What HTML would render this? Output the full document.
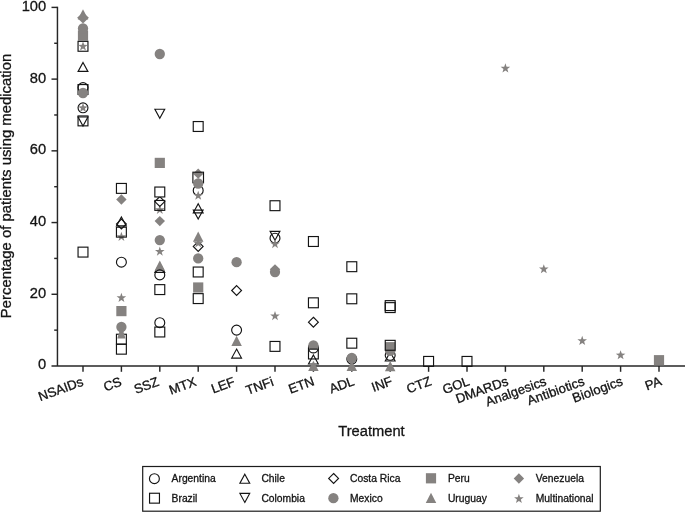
<!DOCTYPE html>
<html><head><meta charset="utf-8"><title>Treatment chart</title>
<style>
html,body{margin:0;padding:0;background:#fff}
svg{display:block}
text{font-family:"Liberation Sans",Arial,Helvetica,sans-serif;fill:#141414;stroke:#141414;stroke-width:.3px}
.n{font-size:14.7px}
.c{font-size:13.15px}
.t{font-size:14.7px}
.l{font-size:10.3px}
.a{fill:none;stroke:#262626;stroke-width:1.45}
.o{fill:none;stroke:#141414;stroke-width:1.15;stroke-miterlimit:10}
.g{fill:#858280;stroke:none}
.w{fill:#fff}
</style></head><body>
<svg width="685" height="512" viewBox="0 0 685 512">
<rect width="685" height="512" fill="#fff"/>
<g><path d="M57.45 6.8V366" class="a"/><path d="M51.5 366H685" class="a"/><text x="46.2" y="369.4" text-anchor="end" class="n">0</text><path d="M54.2 330.14H57.45" class="a"/><path d="M51.5 294.28H57.45" class="a"/><text x="46.2" y="297.68" text-anchor="end" class="n">20</text><path d="M54.2 258.42H57.45" class="a"/><path d="M51.5 222.56H57.45" class="a"/><text x="46.2" y="225.96" text-anchor="end" class="n">40</text><path d="M54.2 186.7H57.45" class="a"/><path d="M51.5 150.84H57.45" class="a"/><text x="46.2" y="154.24" text-anchor="end" class="n">60</text><path d="M54.2 114.98H57.45" class="a"/><path d="M51.5 79.12H57.45" class="a"/><text x="46.2" y="82.52" text-anchor="end" class="n">80</text><path d="M54.2 43.26H57.45" class="a"/><path d="M51.5 7.4H57.45" class="a"/><text x="46.2" y="10.8" text-anchor="end" class="n">100</text><path d="M83 366V371.8" class="a"/><text transform="translate(84.2 385.2) rotate(-20)" text-anchor="end" class="c">NSAIDs</text><path d="M121.4 366V371.8" class="a"/><text transform="translate(122.6 385.2) rotate(-20)" text-anchor="end" class="c">CS</text><path d="M159.8 366V371.8" class="a"/><text transform="translate(159.9 385.2) rotate(-20)" text-anchor="end" class="c">SSZ</text><path d="M198.2 366V371.8" class="a"/><text transform="translate(197.2 385.2) rotate(-20)" text-anchor="end" class="c">MTX</text><path d="M236.6 366V371.8" class="a"/><text transform="translate(235.9 385.2) rotate(-20)" text-anchor="end" class="c">LEF</text><path d="M275 366V371.8" class="a"/><text transform="translate(274.4 385.2) rotate(-20)" text-anchor="end" class="c">TNFi</text><path d="M313.4 366V371.8" class="a"/><text transform="translate(315.3 384.8) rotate(-20)" text-anchor="end" class="c">ETN</text><path d="M351.8 366V371.8" class="a"/><text transform="translate(355.2 384.8) rotate(-20)" text-anchor="end" class="c">ADL</text><path d="M390.2 366V371.8" class="a"/><text transform="translate(393.4 384.8) rotate(-20)" text-anchor="end" class="c">INF</text><path d="M428.6 366V371.8" class="a"/><text transform="translate(432.4 384.8) rotate(-20)" text-anchor="end" class="c">CTZ</text><path d="M467 366V371.8" class="a"/><text transform="translate(470.5 384.8) rotate(-20)" text-anchor="end" class="c">GOL</text><path d="M505.4 366V371.8" class="a"/><text transform="translate(509.1 384.8) rotate(-20)" text-anchor="end" class="c">DMARDs</text><path d="M543.8 366V371.8" class="a"/><text transform="translate(547.3 384.8) rotate(-20)" text-anchor="end" class="c">Analgesics</text><path d="M582.2 366V371.8" class="a"/><text transform="translate(585.4 384.8) rotate(-20)" text-anchor="end" class="c">Antibiotics</text><path d="M620.6 366V371.8" class="a"/><text transform="translate(623.6 384.8) rotate(-20)" text-anchor="end" class="c">Biologics</text><path d="M659 366V371.8" class="a"/><text transform="translate(662.5 384.8) rotate(-20)" text-anchor="end" class="c">PA</text><text x="371.5" y="435.7" text-anchor="middle" class="t">Treatment</text><text transform="translate(11.05 186) rotate(-90)" text-anchor="middle" class="t" style="font-size:14.87px">Percentage of patients using medication</text></g>
<g><path d="M83 9.35L88.25 19.6H77.75Z" class="g"/><path d="M83 12.3L88.9 17.8L83 23.4L77.1 17.8Z" class="g"/><rect x="77.9" y="30.5" width="10.2" height="10.2" class="g"/><circle cx="83" cy="28.5" r="5.15" class="g"/><rect x="78.05" y="41.35" width="9.9" height="9.9" class="o"/><polygon points="83,41.45 84.19,44.87 87.8,44.94 84.92,47.12 85.97,50.59 83,48.52 80.03,50.59 81.08,47.12 78.2,44.94 81.81,44.87" class="g"/><path d="M83 62.4L87.9 71.4H78.1Z" class="o"/><circle cx="83" cy="87.6" r="4.95" class="o"/><rect x="78.05" y="84.55" width="9.9" height="9.9" class="o"/><circle cx="83" cy="93" r="5.15" class="g"/><circle cx="83" cy="107.8" r="4.95" class="o"/><polygon points="83,102.95 84.19,106.37 87.8,106.44 84.92,108.62 85.97,112.09 83,110.02 80.03,112.09 81.08,108.62 78.2,106.44 81.81,106.37" class="g"/><rect x="78.05" y="115.95" width="9.9" height="9.9" class="o"/><path d="M83 126L87.9 117H78.1Z" class="o"/><rect x="78.05" y="247.15" width="9.9" height="9.9" class="o"/><rect x="116.45" y="183.45" width="9.9" height="9.9" class="o"/><path d="M121.4 194.35L126.6 199.5L121.4 204.65L116.2 199.5Z" class="g"/><polygon points="121.4,231.75 122.59,235.17 126.2,235.24 123.32,237.42 124.37,240.89 121.4,238.82 118.43,240.89 119.48,237.42 116.6,235.24 120.21,235.17" class="g"/><rect x="116.45" y="227.2" width="9.9" height="9.9" class="o"/><path d="M121.4 216.9L126.3 225.9H116.5Z" class="o"/><path d="M121.4 219.08L126.32 224L121.4 228.92L116.48 224Z" class="o"/><circle cx="121.4" cy="262.2" r="4.95" class="o"/><polygon points="121.4,292.85 122.59,296.27 126.2,296.34 123.32,298.52 124.37,301.99 121.4,299.92 118.43,301.99 119.48,298.52 116.6,296.34 120.21,296.27" class="g"/><rect x="116.3" y="306" width="10.2" height="10.2" class="g"/><rect x="116.45" y="334.25" width="9.9" height="9.9" class="o"/><rect x="116.45" y="344.25" width="9.9" height="9.9" class="o"/><path d="M120.2 329L122.6 329L125.5 338.6H117.3Z" class="g"/><circle cx="121.4" cy="327" r="5.15" class="g"/><circle cx="159.8" cy="54" r="5.15" class="g"/><path d="M159.8 118.2L164.7 109.2H154.9Z" class="o"/><rect x="154.7" y="157.8" width="10.2" height="10.2" class="g"/><polygon points="159.8,204.75 160.99,208.17 164.6,208.24 161.72,210.42 162.77,213.89 159.8,211.82 156.83,213.89 157.88,210.42 155,208.24 158.61,208.17" class="g"/><rect x="154.85" y="200.45" width="9.9" height="9.9" class="o"/><path d="M159.8 196.68L164.72 201.6L159.8 206.52L154.88 201.6Z" class="o"/><rect x="154.85" y="187.05" width="9.9" height="9.9" class="o w"/><path d="M159.8 215.95L165 221.1L159.8 226.25L154.6 221.1Z" class="g"/><circle cx="159.8" cy="240.1" r="5.15" class="g"/><polygon points="159.8,246.55 160.99,249.97 164.6,250.04 161.72,252.22 162.77,255.69 159.8,253.62 156.83,255.69 157.88,252.22 155,250.04 158.61,249.97" class="g"/><path d="M159.8 263.3L164.7 272.3H154.9Z" class="o"/><path d="M159.8 260.55L165.05 270.8H154.55Z" class="g"/><circle cx="159.8" cy="274.9" r="4.95" class="o"/><rect x="154.85" y="284.65" width="9.9" height="9.9" class="o"/><circle cx="159.8" cy="322.7" r="4.95" class="o"/><rect x="154.85" y="327.05" width="9.9" height="9.9" class="o"/><rect x="193.25" y="121.55" width="9.9" height="9.9" class="o"/><path d="M198.2 168.55L203.4 173.7L198.2 178.85L193 173.7Z" class="g"/><rect x="192.9" y="172.2" width="10.6" height="10.6" class="o"/><circle cx="198.2" cy="190.4" r="4.95" class="o"/><polygon points="198.2,190.65 199.39,194.07 203,194.14 200.12,196.32 201.17,199.79 198.2,197.72 195.23,199.79 196.28,196.32 193.4,194.14 197.01,194.07" class="g"/><circle cx="198.2" cy="183.5" r="5.15" class="g"/><path d="M198.2 203.8L203.1 212.8H193.3Z" class="o"/><path d="M198.2 219.1L203.1 210.1H193.3Z" class="o"/><path d="M198.2 241.48L203.12 246.4L198.2 251.32L193.28 246.4Z" class="o"/><polygon points="198.2,238.25 199.39,241.67 203,241.74 200.12,243.92 201.17,247.39 198.2,245.32 195.23,247.39 196.28,243.92 193.4,241.74 197.01,241.67" class="g"/><path d="M198.2 231.6L203.45 241.85H192.95Z" class="g"/><circle cx="198.2" cy="258.4" r="5.15" class="g"/><rect x="193.25" y="267.05" width="9.9" height="9.9" class="o"/><rect x="193.1" y="282.4" width="10.2" height="10.2" class="g"/><rect x="193.25" y="293.65" width="9.9" height="9.9" class="o"/><circle cx="236.6" cy="262.2" r="5.15" class="g"/><path d="M236.6 285.58L241.52 290.5L236.6 295.42L231.68 290.5Z" class="o"/><circle cx="236.6" cy="330.1" r="4.95" class="o"/><path d="M236.6 335.7L241.85 345.95H231.35Z" class="g"/><path d="M236.6 349.1L241.5 358.1H231.7Z" class="o"/><rect x="270.05" y="200.75" width="9.9" height="9.9" class="o"/><circle cx="275" cy="238.2" r="4.95" class="o"/><path d="M275 240.3L279.9 231.3H270.1Z" class="o"/><polygon points="275,239.05 276.19,242.47 279.8,242.54 276.92,244.72 277.97,248.19 275,246.12 272.03,248.19 273.08,244.72 270.2,242.54 273.81,242.47" class="g"/><path d="M275 264.15L280.2 269.3L275 274.45L269.8 269.3Z" class="g"/><circle cx="275" cy="272.1" r="5.15" class="g"/><polygon points="275,311.05 276.19,314.47 279.8,314.54 276.92,316.72 277.97,320.19 275,318.12 272.03,320.19 273.08,316.72 270.2,314.54 273.81,314.47" class="g"/><rect x="270.05" y="341.45" width="9.9" height="9.9" class="o"/><rect x="308.45" y="236.55" width="9.9" height="9.9" class="o"/><rect x="308.45" y="297.85" width="9.9" height="9.9" class="o"/><path d="M313.4 317.28L318.32 322.2L313.4 327.12L308.48 322.2Z" class="o"/><circle cx="313.4" cy="347.9" r="4.95" class="o"/><circle cx="313.4" cy="345.4" r="5.15" class="g"/><rect x="308.5" y="349.15" width="9.8" height="9.8" class="o w"/><path d="M308.75 349.6A4.95 4.95 0 0 0 318.05 349.6" class="o"/><path d="M313.4 354.95L318.3 363.95H308.5Z" class="o"/><path d="M313.4 360.7L318.65 370.95H308.15Z" class="g"/><rect x="346.85" y="261.75" width="9.9" height="9.9" class="o"/><rect x="346.85" y="293.85" width="9.9" height="9.9" class="o"/><rect x="346.85" y="338.25" width="9.9" height="9.9" class="o"/><circle cx="351.8" cy="359.1" r="4.95" class="o"/><circle cx="351.8" cy="358" r="5.15" class="g"/><path d="M351.8 360.7L357.05 370.95H346.55Z" class="g"/><rect x="385.25" y="300.65" width="9.9" height="9.9" class="o"/><rect x="385.25" y="302.65" width="9.9" height="9.9" class="o"/><circle cx="390.2" cy="355.3" r="4.95" class="o"/><path d="M390.2 352L395.1 361H385.3Z" class="o"/><circle cx="390.2" cy="350.9" r="5.15" class="g"/><rect x="385.1" y="342.1" width="10.2" height="10.2" class="g"/><rect x="385.25" y="340.35" width="9.9" height="9.9" class="o"/><path d="M390.2 361.1L395.45 371.35H384.95Z" class="g"/><rect x="423.65" y="356.45" width="9.9" height="9.9" class="o"/><rect x="462.05" y="356.45" width="9.9" height="9.9" class="o"/><polygon points="505.4,63.31 506.59,66.73 510.2,66.8 507.32,68.99 508.37,72.45 505.4,70.38 502.43,72.45 503.48,68.99 500.6,66.8 504.21,66.73" class="g"/><polygon points="543.8,264.13 544.99,267.54 548.6,267.62 545.72,269.8 546.77,273.26 543.8,271.2 540.83,273.26 541.88,269.8 539,267.62 542.61,267.54" class="g"/><polygon points="582.2,335.85 583.39,339.26 587,339.34 584.12,341.52 585.17,344.98 582.2,342.92 579.23,344.98 580.28,341.52 577.4,339.34 581.01,339.26" class="g"/><polygon points="620.6,350.19 621.79,353.61 625.4,353.68 622.52,355.87 623.57,359.33 620.6,357.26 617.63,359.33 618.68,355.87 615.8,353.68 619.41,353.61" class="g"/><rect x="653.9" y="355.1" width="10.2" height="10.2" class="g"/></g>
<g><rect x="142.7" y="466.5" width="457.6" height="44.7" fill="none" stroke="#1c1c1c" stroke-width="1.2"/><circle cx="154.4" cy="478.7" r="4.95" class="o"/><rect x="149.55" y="493.25" width="9.9" height="9.9" class="o"/><path d="M244.8 474.2L249.7 483.2H239.9Z" class="o"/><path d="M244.8 502.4L249.7 493.4H239.9Z" class="o"/><path d="M333.6 473.48L338.52 478.4L333.6 483.32L328.68 478.4Z" class="o"/><circle cx="333.4" cy="498.2" r="5.15" class="g"/><rect x="425.9" y="473.2" width="10.2" height="10.2" class="g"/><path d="M431 492.8L436.25 503.05H425.75Z" class="g"/><path d="M518.9 473.35L524.1 478.5L518.9 483.65L513.7 478.5Z" class="g"/><polygon points="518.9,493.85 520.09,497.27 523.7,497.34 520.82,499.52 521.87,502.99 518.9,500.92 515.93,502.99 516.98,499.52 514.1,497.34 517.71,497.27" class="g"/><text x="171.6" y="481.9" class="l">Argentina</text><text x="171.6" y="501.9" class="l">Brazil</text><text x="261.4" y="481.9" class="l">Chile</text><text x="261.4" y="501.9" class="l">Colombia</text><text x="350" y="481.9" class="l">Costa Rica</text><text x="350" y="501.9" class="l">Mexico</text><text x="447.9" y="481.9" class="l">Peru</text><text x="447.9" y="501.9" class="l">Uruguay</text><text x="535.8" y="481.9" class="l">Venezuela</text><text x="535.8" y="501.9" class="l">Multinational</text></g>
</svg>
</body></html>
